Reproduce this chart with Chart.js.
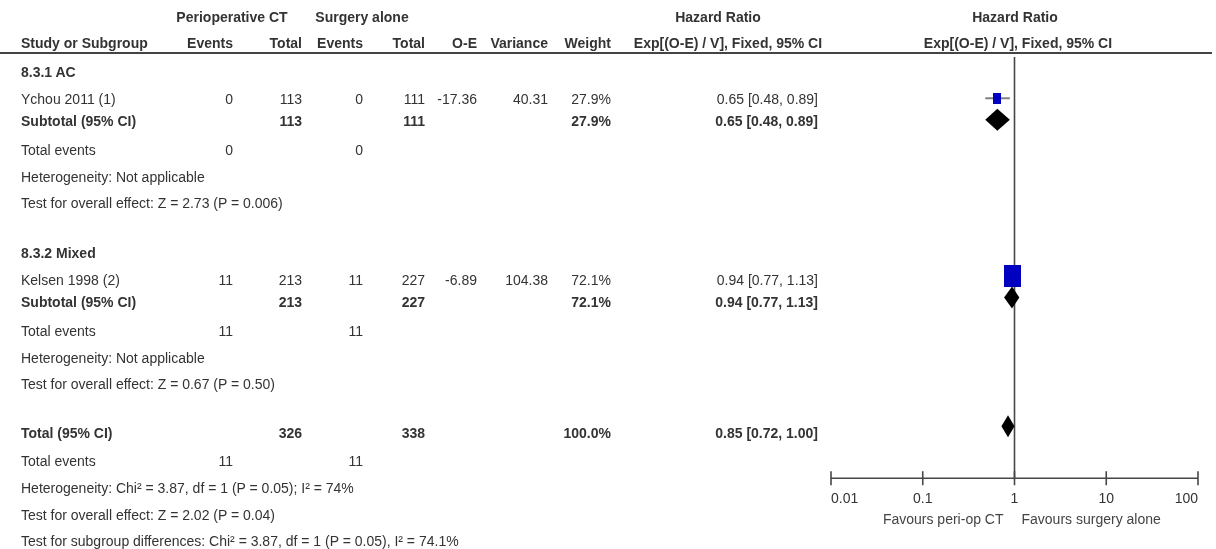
<!DOCTYPE html>
<html><head><meta charset="utf-8">
<script src="https://cdn.jsdelivr.net/npm/chart.js@4.4.1/dist/chart.umd.min.js"></script>
<style>
html,body{margin:0;padding:0;background:#fff}
#wrap{position:relative;width:1216px;height:549px;overflow:hidden;font-family:"Liberation Sans",Arial,sans-serif;font-size:14px;color:#333}
#wrap canvas{position:absolute;left:0;top:0}
.t{position:absolute;white-space:nowrap;line-height:16px}
.b{font-weight:bold}
#rule{position:absolute;left:0;top:52px;width:1212px;height:2px;background:#444}
</style></head><body>
<div id="wrap"><canvas id="forest" width="1216" height="549"></canvas><div id="rule"></div></div>
<script>
// ===== data =====
const SUBGROUPS=['8.3.1 AC','8.3.2 Mixed'];
const STUDIES=['Ychou 2011 (1)','Kelsen 1998 (2)'];
const EXP_EVENTS=[0,11],EXP_TOTAL=[113,213];
const CTL_EVENTS=[0,11],CTL_TOTAL=[111,227];
const O_MINUS_E=['-17.36','-6.89'],VARIANCE=['40.31','104.38'];
const WEIGHT=[27.9,72.1];
const HR=[0.65,0.94],HR_LO=[0.48,0.77],HR_HI=[0.89,1.13];
const SUB_HR=[0.65,0.94],SUB_LO=[0.48,0.77],SUB_HI=[0.89,1.13];
const SUB_HET=['Heterogeneity: Not applicable','Heterogeneity: Not applicable'];
const SUB_TEST=['Test for overall effect: Z = 2.73 (P = 0.006)','Test for overall effect: Z = 0.67 (P = 0.50)'];
const TOTAL_HR=0.85,TOTAL_LO=0.72,TOTAL_HI=1.00;
const TOTAL_EXP=326,TOTAL_CTL=338,TOTAL_EXP_EV=11,TOTAL_CTL_EV=11;
const TOTAL_HET='Heterogeneity: Chi² = 3.87, df = 1 (P = 0.05); I² = 74%';
const TOTAL_TEST='Test for overall effect: Z = 2.02 (P = 0.04)';
const SUBGROUP_TEST='Test for subgroup differences: Chi² = 3.87, df = 1 (P = 0.05), I² = 74.1%';
const X_TICKS=[0.01,0.1,1,10,100];
const X_TICK_LABELS=['0.01','0.1','1','10','100'];
const FAVOURS=['Favours peri-op CT','Favours surgery alone'];

// ===== layout =====
const COL={name:21,expEv:233,expTot:302,ctlEv:363,ctlTot:425,oe:477,vari:548,weight:611,hr:818};
const GROUP_Y=[{head:72,study:99,sub:121,ev:150,het:177,test:203},{head:253,study:280,sub:302,ev:331,het:358,test:384}];
const TOTAL_Y={sum:433,ev:461,het:488,test:515,diff:541};
const MARK_DY=-4,RULE_Y=53,AXIS_Y=482,DIAMOND_H=11;
const BOX_COLOR='#0000c0',LINE_COLOR='#474747',TEXT_COLOR='#333';

const wrap=document.getElementById('wrap');
function put(text,x,y,align,bold){
  const d=document.createElement('div');d.className='t'+(bold?' b':'');d.textContent=text;
  d.style.top=(y-8)+'px';
  if(align==='right')d.style.right=(1216-x)+'px';
  else if(align==='center'){d.style.left=x+'px';d.style.transform='translateX(-50%)';}
  else d.style.left=x+'px';
  wrap.appendChild(d);
}
const fmtHR=(e,l,h)=>`${e.toFixed(2)} [${l.toFixed(2)}, ${h.toFixed(2)}]`;

// headers
put('Perioperative CT',232,17,'center',true);put('Surgery alone',362,17,'center',true);
put('Hazard Ratio',718,17,'center',true);put('Hazard Ratio',1015,17,'center',true);
put('Study or Subgroup',COL.name,43,'left',true);
put('Events',COL.expEv,43,'right',true);put('Total',COL.expTot,43,'right',true);
put('Events',COL.ctlEv,43,'right',true);put('Total',COL.ctlTot,43,'right',true);
put('O-E',COL.oe,43,'right',true);put('Variance',COL.vari,43,'right',true);put('Weight',COL.weight,43,'right',true);
put('Exp[(O-E) / V], Fixed, 95% CI',728,43,'center',true);put('Exp[(O-E) / V], Fixed, 95% CI',1018,43,'center',true);

SUBGROUPS.forEach((g,i)=>{
  const r=GROUP_Y[i];
  put(g,COL.name,r.head,'left',true);
  put(STUDIES[i],COL.name,r.study);
  put(String(EXP_EVENTS[i]),COL.expEv,r.study,'right');put(String(EXP_TOTAL[i]),COL.expTot,r.study,'right');
  put(String(CTL_EVENTS[i]),COL.ctlEv,r.study,'right');put(String(CTL_TOTAL[i]),COL.ctlTot,r.study,'right');
  put(O_MINUS_E[i],COL.oe,r.study,'right');put(VARIANCE[i],COL.vari,r.study,'right');
  put(WEIGHT[i].toFixed(1)+'%',COL.weight,r.study,'right');
  put(fmtHR(HR[i],HR_LO[i],HR_HI[i]),COL.hr,r.study,'right');
  put('Subtotal (95% CI)',COL.name,r.sub,'left',true);
  put(String(EXP_TOTAL[i]),COL.expTot,r.sub,'right',true);put(String(CTL_TOTAL[i]),COL.ctlTot,r.sub,'right',true);
  put(WEIGHT[i].toFixed(1)+'%',COL.weight,r.sub,'right',true);
  put(fmtHR(SUB_HR[i],SUB_LO[i],SUB_HI[i]),COL.hr,r.sub,'right',true);
  put('Total events',COL.name,r.ev);
  put(String(EXP_EVENTS[i]),COL.expEv,r.ev,'right');put(String(CTL_EVENTS[i]),COL.ctlEv,r.ev,'right');
  put(SUB_HET[i],COL.name,r.het);put(SUB_TEST[i],COL.name,r.test);
});
put('Total (95% CI)',COL.name,TOTAL_Y.sum,'left',true);
put(String(TOTAL_EXP),COL.expTot,TOTAL_Y.sum,'right',true);put(String(TOTAL_CTL),COL.ctlTot,TOTAL_Y.sum,'right',true);
put('100.0%',COL.weight,TOTAL_Y.sum,'right',true);
put(fmtHR(TOTAL_HR,TOTAL_LO,TOTAL_HI),COL.hr,TOTAL_Y.sum,'right',true);
put('Total events',COL.name,TOTAL_Y.ev);
put(String(TOTAL_EXP_EV),COL.expEv,TOTAL_Y.ev,'right');put(String(TOTAL_CTL_EV),COL.ctlEv,TOTAL_Y.ev,'right');
put(TOTAL_HET,COL.name,TOTAL_Y.het);put(TOTAL_TEST,COL.name,TOTAL_Y.test);put(SUBGROUP_TEST,COL.name,TOTAL_Y.diff);

// study boxes, sized by weight
const maxW=Math.max(...WEIGHT);
const boxes=WEIGHT.map(w=>{
  const h=Math.round(22*Math.pow(w/maxW,0.7)),c=document.createElement('canvas');
  c.width=Math.round(h*0.76);c.height=h;const g=c.getContext('2d');g.fillStyle=BOX_COLOR;g.fillRect(0,0,c.width,c.height);return c;
});

const forestPlugin={
  id:'forest',
  beforeDatasetsDraw(chart){
    const {ctx,scales:{x,y}}=chart;ctx.save();
    ctx.strokeStyle=LINE_COLOR;ctx.lineWidth=1.6;
    const x1=x.getPixelForValue(1),ay=y.getPixelForValue(AXIS_Y);
    ctx.beginPath();ctx.moveTo(x1,y.getPixelForValue(RULE_Y));ctx.lineTo(x1,ay);ctx.stroke();
    const xa=x.getPixelForValue(X_TICKS[0]),xb=x.getPixelForValue(X_TICKS[X_TICKS.length-1]);
    ctx.beginPath();ctx.moveTo(xa,ay);ctx.lineTo(xb,ay);ctx.stroke();
    ctx.fillStyle=TEXT_COLOR;ctx.font='14px "Liberation Sans", Arial, sans-serif';ctx.textBaseline='middle';
    X_TICKS.forEach((t,i)=>{
      const px=x.getPixelForValue(t);
      ctx.beginPath();ctx.moveTo(px,ay-7);ctx.lineTo(px,ay+7);ctx.stroke();
      ctx.textAlign=i===0?'left':(i===X_TICKS.length-1?'right':'center');
      ctx.fillText(X_TICK_LABELS[i],px,ay+21);
    });
    ctx.fillStyle='#444';
    ctx.textAlign='right';ctx.fillText(FAVOURS[0],x1-11,ay+42);
    ctx.textAlign='left';ctx.fillText(FAVOURS[1],x1+7,ay+42);
    ctx.restore();
  },
  afterDatasetsDraw(chart){
    const {ctx,scales:{x,y}}=chart;ctx.save();ctx.fillStyle='#000';
    const dia=(e,l,h,row)=>{
      const cy=y.getPixelForValue(row+MARK_DY);
      ctx.beginPath();ctx.moveTo(x.getPixelForValue(l),cy);ctx.lineTo(x.getPixelForValue(e),cy-DIAMOND_H);
      ctx.lineTo(x.getPixelForValue(h),cy);ctx.lineTo(x.getPixelForValue(e),cy+DIAMOND_H);ctx.closePath();ctx.fill();
    };
    SUBGROUPS.forEach((g,i)=>dia(SUB_HR[i],SUB_LO[i],SUB_HI[i],GROUP_Y[i].sub));
    dia(TOTAL_HR,TOTAL_LO,TOTAL_HI,TOTAL_Y.sum);
    ctx.restore();
  }
};

new Chart(document.getElementById('forest').getContext('2d'),{
  type:'scatter',
  data:{datasets:[
    {data:STUDIES.map((s,i)=>({x:HR[i],y:GROUP_Y[i].study+MARK_DY})),pointStyle:boxes,pointRadius:4,order:0},
    ...STUDIES.map((s,i)=>({type:'line',data:[{x:HR_LO[i],y:GROUP_Y[i].study+MARK_DY},{x:HR_HI[i],y:GROUP_Y[i].study+MARK_DY}],
      borderColor:'#808080',borderWidth:2,pointRadius:0,order:1}))
  ]},
  options:{responsive:false,animation:false,events:[],
    layout:{padding:{left:831,right:18,top:0,bottom:0}},
    plugins:{legend:{display:false},tooltip:{enabled:false}},
    scales:{x:{type:'logarithmic',min:0.01,max:100,display:false},y:{type:'linear',min:0,max:549,reverse:true,display:false}}
  },
  plugins:[forestPlugin]
});
</script></body></html>
